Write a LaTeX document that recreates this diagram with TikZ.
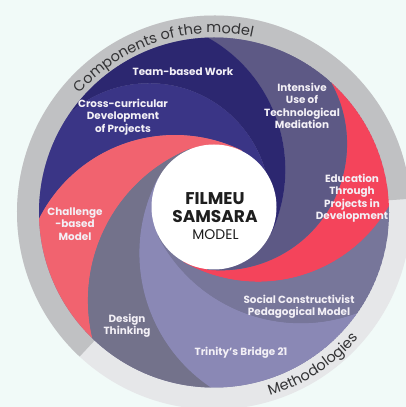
\documentclass[tikz,border=0pt]{standalone}
\usepackage{fontspec}
\setmainfont{Poppins}
\usepackage{tikz}
\usetikzlibrary{decorations.text}
\definecolor{bgmint}{HTML}{F1FAF8}
\definecolor{ringdark}{HTML}{C0C1C3}
\definecolor{ringlight}{HTML}{E6E7E9}
\definecolor{ringink}{HTML}{333335}
\definecolor{teamnavy}{HTML}{2C2770}
\definecolor{crossnavy}{HTML}{3A3586}
\definecolor{intgray}{HTML}{5D5985}
\definecolor{edured}{HTML}{F4445B}
\definecolor{chalpink}{HTML}{F1636F}
\definecolor{desgray}{HTML}{73728B}
\definecolor{trinlav}{HTML}{8A88B5}
\definecolor{socgray}{HTML}{77769A}
\definecolor{labeltext}{HTML}{F3F0F6}
\definecolor{ink}{HTML}{1E1E1E}
\newcommand{\labelfont}{\fontsize{10.4}{12.5}\selectfont\bfseries}
\newcommand{\ringfont}{\fontsize{14.5}{17}\selectfont}
\newcommand{\titlefont}{\fontsize{17}{18}\selectfont\bfseries}
\newcommand{\subfont}{\fontsize{14}{16}\selectfont}
% disc and hub centres, in units of 10pt
\newcommand{\diskx}{21.4}
\newcommand{\disky}{19.45}
\newcommand{\diskr}{17.5}
\newcommand{\hubx}{21.4}
\newcommand{\huby}{20.0}
% one swirl edge: outer angle #1, tangent angle #2, tangent radius #3
\newcommand{\swirlbnd}[3]{%
  \pgfmathsetmacro{\qx}{\diskr*cos(#1)+\diskx-\hubx}%
  \pgfmathsetmacro{\qy}{\diskr*sin(#1)+\disky-\huby}%
  \pgfmathsetmacro{\qu}{(\qx)*cos(#2)+(\qy)*sin(#2)}%
  \pgfmathsetmacro{\brho}{((\qx)*(\qx)+(\qy)*(\qy)+#3*#3-2*#3*(\qu))/(2*(#3-(\qu)))}%
  \pgfmathsetmacro{\bcx}{\hubx+(#3-\brho)*cos(#2)}%
  \pgfmathsetmacro{\bcy}{\huby+(#3-\brho)*sin(#2)}%
  \pgfmathsetmacro{\bbeta}{#2+mod(atan2(\disky+\diskr*sin(#1)-(\bcy),\diskx+\diskr*cos(#1)-(\bcx))-(#2)+720,360)}%
}
% one swirl band between an outer edge (#2-#4) and an inner edge (#5-#7)
\newcommand{\swirlarm}[7]{%
  \swirlbnd{#2}{#3}{#4}%
  \let\orho\brho \let\ocx\bcx \let\ocy\bcy \let\obeta\bbeta
  \swirlbnd{#5}{#6}{#7}%
  \fill[#1] ({\ocx+\orho*cos(\obeta+4)},{\ocy+\orho*sin(\obeta+4)})
    arc[start angle=\obeta+4,end angle=#3,radius=\orho]
    -- (\hubx,\huby)
    -- ({\hubx+#7*cos(#6)},{\huby+#7*sin(#6)})
    arc[start angle=#6,end angle=\bbeta+4,radius=\brho]
    -- ({\diskx+1.3*\diskr*cos(#5)},{\disky+1.3*\diskr*sin(#5)})
    arc[start angle=#5,end angle=#2,radius=1.3*\diskr]
    -- cycle;
}
\tikzset{
  every node/.style={font=\labelfont},
  lab/.style={text=labeltext,align=center,inner sep=0pt},
  ringlabel/.style={decorate,decoration={text along path,text align=center,
                    text color=ringink,text={|\ringfont|#1}}},
}

\begin{document}
\begin{tikzpicture}[x=10pt,y=10pt]
  \useasboundingbox (0,0) rectangle (40.6,40.7);
  \clip (0,0) rectangle (40.6,40.7);
  \fill[bgmint] (0,0) rectangle (40.6,40.7);

  % ---------- outer ring ----------
  \fill[ringlight] (\diskx,\disky) circle (19.7);
  \fill[ringdark] (\diskx,\disky) -- ++(4:19.7) arc[start angle=4,end angle=227,radius=19.7] -- cycle;
  \path[ringlabel={Components of the model}]
       ({\diskx+17.95*cos(150)},{\disky+17.95*sin(150)}) arc[start angle=150,end angle=66,radius=17.95];
  \path[ringlabel={Methodologies}]
       ({\diskx+19.15*cos(283)},{\disky+19.15*sin(283)}) arc[start angle=283,end angle=323,radius=19.15];

  % ---------- swirl ----------
  \begin{scope}
    \clip (\diskx,\disky) circle (\diskr);
    \fill[socgray] (\diskx,\disky) circle (\diskr);
    \swirlarm{edured}{2}{-120}{6.3}{48}{-96}{6.3}
    \swirlarm{intgray}{48}{-96}{6.3}{92}{-25}{6.3}
    \swirlarm{teamnavy}{92}{-25}{6.3}{145}{-2.5}{5.6}
    \swirlarm{crossnavy}{145}{-2.5}{5.6}{182}{64}{6.3}
    \swirlarm{chalpink}{182}{64}{6.3}{226}{112}{6.3}
    \swirlarm{desgray}{226}{112}{6.3}{269}{152}{6.3}
    \swirlarm{trinlav}{269}{152}{6.3}{325}{207}{6.3}
    \swirlarm{socgray}{325}{207}{6.3}{362}{240}{6.3}
  \end{scope}

  % ---------- hub ----------
  \fill[white] (\hubx,\huby) circle (6.25);
  \node[font=\titlefont,text=ink,align=center,inner sep=0pt] (hubtitle) at (21.5,19.9) {FILMEU\\SAMSARA};
  \node[font=\subfont,text=ink,inner sep=0pt] (hubsub) at (21.55,17.2) {MODEL};

  % ---------- labels ----------
  \node[lab] (team)      at (18.3,33.5) {Team-based Work};
  \node[lab] (cross)     at (12.3,29.0) {Cross-curricular\\Development\\of Projects};
  \node[lab] (intensive) at (30.2,30.1) {Intensive\\Use of\\Technological\\Mediation};
  \node[lab] (education) at (35.2,20.9) {Education\\Through\\Projects in\\Development};
  \node[lab] (challenge) at (7.5,18.3)  {Challenge\\-based\\Model};
  \node[lab] (social)    at (29.9,10.0) {Social Constructivist\\Pedagogical Model};
  \node[lab] (design)    at (12.7,8.1)  {Design\\Thinking};
  \node[lab] (trinity)   at (24.1,5.4)  {Trinity's Bridge 21};
\end{tikzpicture}
\end{document}
